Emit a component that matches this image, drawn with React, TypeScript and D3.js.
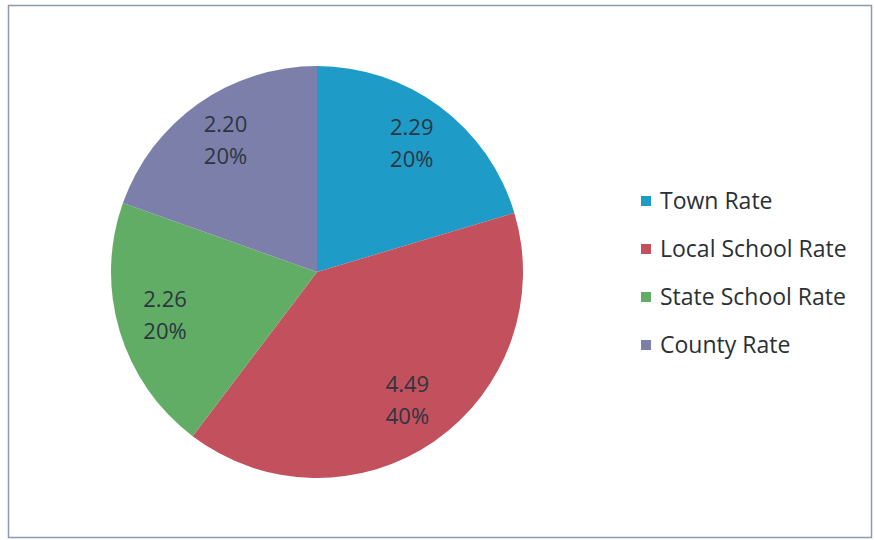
import React from "react";
import * as d3 from "d3";

const categories = ["Town Rate", "Local School Rate", "State School Rate", "County Rate"];
const values = [2.29, 4.49, 2.26, 2.2];
const valueLabels = ["2.29", "4.49", "2.26", "2.20"];
const percentLabels = ["20%", "40%", "20%", "20%"];
const colors = ["#1f9bc8", "#c3505d", "#62ad65", "#7d7fab"];

const W = 875;
const H = 540;
const cx = 317;
const cy = 272;
const R = 206;
const FONT = "'Open Sans', 'Liberation Sans', sans-serif";

export default function App() {
  const pie = d3.pie<number>().sort(null).value((d) => d)(values);
  const arc = d3.arc<d3.PieArcDatum<number>>().innerRadius(0).outerRadius(R);
  const labelArc = d3.arc<d3.PieArcDatum<number>>().innerRadius(R * 0.77).outerRadius(R * 0.77);
  const legendY = d3.scalePoint<string>().domain(categories).range([201, 345]);

  return (
    <svg width={W} height={H} style={{ position: "absolute", left: 0, top: 0, background: "#fff" }}>
      <rect x={8.5} y={5.5} width={863} height={532} fill="#fff" stroke="#8c9bb0" strokeWidth={1.5} />
      <g transform={`translate(${cx},${cy})`}>
        {pie.map((p, i) => (
          <path key={i} d={arc(p) || ""} fill={colors[i]} />
        ))}
        {pie.map((p, i) => {
          const [x, y] = labelArc.centroid(p);
          return (
            <text key={i} x={x} y={y} textAnchor="middle" fontFamily={FONT} fontSize={22} fill="#2c3640">
              <tspan x={x} dy={-10}>{valueLabels[i]}</tspan>
              <tspan x={x} dy={32}>{percentLabels[i]}</tspan>
            </text>
          );
        })}
      </g>
      <g>
        {categories.map((c, i) => (
          <g key={c} transform={`translate(641,${legendY(c)})`}>
            <rect x={0} y={-5} width={10} height={10} fill={colors[i]} />
            <text x={19} y={0} dy="0.35em" fontFamily={FONT} fontSize={23} fill="#2a3035">
              {c}
            </text>
          </g>
        ))}
      </g>
    </svg>
  );
}
